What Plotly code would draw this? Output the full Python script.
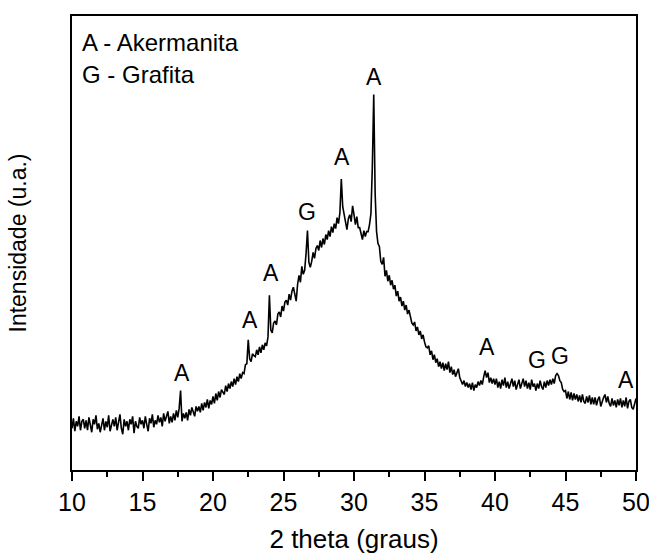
import plotly.graph_objects as go

# Intensity (arbitrary units), 10 values per degree (0.1 deg steps)
intensity = [
    42, 52, 39, 49, 44, 54, 40, 49, 51, 42,   # 10
    50, 40, 53, 45, 38, 51, 46, 55, 41, 47,   # 11
    38, 45, 52, 40, 49, 43, 55, 39, 47, 51,   # 12
    44, 53, 40, 49, 56, 42, 36, 51, 44, 49,   # 13
    40, 51, 46, 54, 37, 49, 44, 42, 53, 46,   # 14
    50, 42, 54, 46, 39, 52, 47, 56, 43, 50,   # 15
    46, 55, 48, 53, 44, 57, 49, 54, 59, 47,   # 16
    54, 48, 57, 50, 60, 53, 62, 80, 49, 57,   # 17
    52, 58, 50, 61, 55, 63, 58, 54, 64, 59,   # 18
    64, 58, 67, 60, 68, 63, 71, 62, 70, 66,   # 19
    74, 67, 77, 70, 79, 73, 81, 78, 76, 85,   # 20
    79, 87, 82, 89, 84, 92, 86, 94, 89, 97,   # 21
    92, 98, 97, 106, 107, 131, 112, 109, 117, 115,     # 22
    114, 121, 116, 124, 118, 126, 121, 128, 125, 134,  # 23
    176, 141, 138, 148, 150, 146, 157, 159, 154, 165,  # 24
    160, 169, 171, 166, 177, 171, 180, 184, 175, 170,  # 25
    187, 196, 189, 205, 197, 201, 218, 241, 209, 204,  # 26
    210, 219, 213, 223, 226, 221, 231, 224, 233, 227,  # 27
    237, 232, 241, 235, 245, 239, 248, 243, 254, 248,  # 28
    259, 293, 265, 256, 249, 242, 253, 257, 250, 266,  # 29
    257, 247, 255, 244, 244, 236, 232, 241, 235, 240,  # 30
    240, 247, 258, 305, 378, 278, 240, 228, 225, 210,  # 31
    207, 214, 195, 201, 190, 196, 186, 191, 182, 186,  # 32
    175, 180, 170, 174, 165, 170, 161, 166, 157, 161,  # 33
    153, 148, 146, 149, 140, 144, 136, 140, 132, 136,  # 34
    129, 124, 123, 125, 116, 120, 111, 116, 108, 112,  # 35
    104, 109, 102, 108, 100, 107, 101, 109, 98, 104,   # 36
    96, 101, 94, 99, 102, 93, 90, 86, 90, 84,          # 37
    88, 83, 87, 81, 88, 80, 86, 83, 89, 85,            # 38
    90, 86, 94, 100, 93, 98, 88, 93, 87, 92,           # 39
    86, 92, 83, 89, 82, 91, 85, 93, 83, 89,            # 40
    82, 88, 92, 84, 90, 81, 87, 91, 82, 88,            # 41
    92, 84, 90, 82, 88, 81, 91, 84, 87, 80,            # 42
    87, 82, 90, 84, 81, 89, 83, 90, 85, 91,            # 43
    86, 92, 87, 95, 97, 95, 90, 88, 81, 79,            # 44
    80, 72, 79, 71, 78, 70, 77, 71, 76, 69,            # 45
    75, 68, 76, 69, 67, 74, 68, 75, 66, 73,            # 46
    66, 73, 65, 71, 74, 64, 70, 73, 76, 68,            # 47
    74, 67, 64, 72, 65, 70, 63, 71, 65, 72,            # 48
    63, 70, 64, 73, 62, 69, 71, 63, 61, 67,            # 49
    72,                                                # 50
]

# 2-theta grid matching the intensity list (0.1 degree steps from 10.0)
two_theta = [round(10 + i * 0.1, 1) for i in range(len(intensity))]

# Phase labels over peaks
peak_labels = ["A", "A", "A", "G", "A", "A", "A", "G", "G", "A"]
peak_label_x = [17.8, 22.6, 24.1, 26.7, 29.15, 31.4, 39.4, 43.0, 44.6, 49.3]
peak_label_y = [98, 151, 198, 260, 315, 396, 124, 111, 115, 91]

legend_lines = ["A - Akermanita", "G - Grafita"]

FONT = "Liberation Sans, Arial, sans-serif"

fig = go.Figure()
fig.add_trace(go.Scatter(
    x=two_theta, y=intensity, mode="lines",
    line=dict(color="black", width=1.6),
    showlegend=False, hoverinfo="skip",
))

for lbl, lx, ly in zip(peak_labels, peak_label_x, peak_label_y):
    fig.add_annotation(x=lx, y=ly, text=lbl, showarrow=False,
                       font=dict(family=FONT, size=23, color="black"),
                       xanchor="center", yanchor="middle")

for i, line in enumerate(legend_lines):
    fig.add_annotation(xref="paper", yref="paper", x=0.014, y=0.942 - i * 0.071,
                       text=line, showarrow=False, xanchor="left", yanchor="middle",
                       font=dict(family=FONT, size=24, color="black"))

fig.update_layout(
    width=649, height=554,
    margin=dict(l=72, r=13, t=16, b=84),
    paper_bgcolor="white", plot_bgcolor="white",
    font=dict(family=FONT, size=24, color="black"),
)
fig.update_xaxes(
    range=[10, 50], tick0=10, dtick=5, automargin=False,
    ticklabeloverflow="allow",
    ticks="outside", ticklen=9, tickwidth=1.5, tickcolor="black",
    minor=dict(ticks="outside", ticklen=5, tickwidth=1.5, tickcolor="black", dtick=2.5, tick0=10),
    showline=True, linecolor="black", linewidth=1.5, mirror=True,
    showgrid=False, zeroline=False,
    title=dict(text="2 theta (graus)", font=dict(family=FONT, size=26), standoff=15),
    tickfont=dict(family=FONT, size=25),
)
fig.update_yaxes(
    range=[0, 457], showticklabels=False, ticks="", automargin=False,
    showline=True, linecolor="black", linewidth=1.5, mirror=True,
    showgrid=False, zeroline=False,
    title=dict(text="Intensidade (u.a.)", font=dict(family=FONT, size=23), standoff=37),
)

fig.write_html("out.html")
